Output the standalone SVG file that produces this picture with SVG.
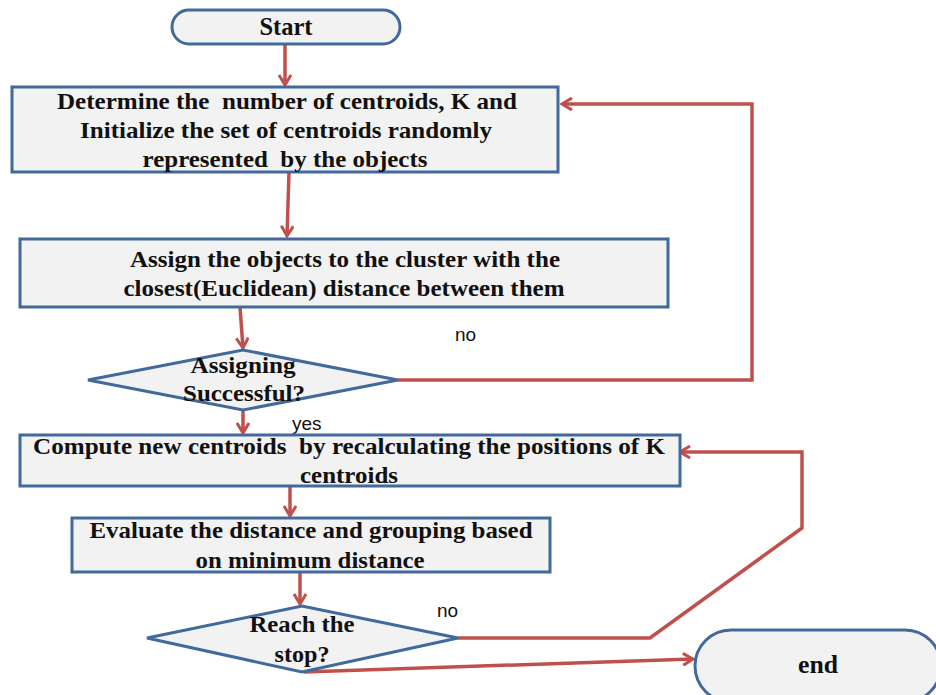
<svg xmlns="http://www.w3.org/2000/svg" width="936" height="695" viewBox="0 0 936 695">
<style>
.box{fill:#f2f2f2;stroke:#41699c;stroke-width:3}
.t{font-family:"Liberation Serif","Times New Roman",serif;font-weight:bold;font-size:23px;fill:#111;text-anchor:middle;white-space:pre}
.big{font-size:25px}
.lbl{font-family:"Liberation Sans",Arial,sans-serif;font-size:19px;fill:#111}
.c{fill:none;stroke:#c0504d;stroke-width:3.5;stroke-linejoin:miter}
</style>
<defs>
<marker id="ah" viewBox="0 0 14 14" refX="12" refY="7" markerWidth="14" markerHeight="14" markerUnits="userSpaceOnUse" orient="auto">
<path d="M2,1 L12,7 L2,13" fill="none" stroke="#c0504d" stroke-width="3"/>
</marker>
</defs>
<rect width="936" height="695" fill="#ffffff"/>
<g id="connectors">
<path class="c" d="M285,44 L285,85" marker-end="url(#ah)"/>
<path class="c" d="M289,172 L287,236" marker-end="url(#ah)"/>
<path class="c" d="M240,307 L243,348" marker-end="url(#ah)"/>
<path class="c" d="M398,380 L752,380 L752,104 L562,104" marker-end="url(#ah)"/>
<path class="c" d="M243,410 L243,433" marker-end="url(#ah)"/>
<path class="c" d="M290,486 L290,516" marker-end="url(#ah)"/>
<path class="c" d="M300,572 L300,604" marker-end="url(#ah)"/>
<path class="c" d="M458,638 L650,638 L802,528 L802,452 L680,452" marker-end="url(#ah)"/>
<path class="c" d="M304,672 L693,659" marker-end="url(#ah)"/>
<text class="lbl" x="455" y="341">no</text>
<text class="lbl" x="292" y="430">yes</text>
<text class="lbl" x="437" y="617">no</text>
</g>
<g id="start">
<rect class="box" x="172" y="10" width="228" height="34" rx="17"/>
<text class="t big" x="286" y="35" textLength="53" lengthAdjust="spacingAndGlyphs">Start</text>
</g>
<g id="init">
<rect class="box" x="12" y="87" width="546" height="85"/>
<text class="t" x="287" y="109" textLength="460" lengthAdjust="spacingAndGlyphs">Determine the  number of centroids, K and</text>
<text class="t" x="286" y="138" textLength="412" lengthAdjust="spacingAndGlyphs">Initialize the set of centroids randomly</text>
<text class="t" x="285" y="167" textLength="285" lengthAdjust="spacingAndGlyphs">represented  by the objects</text>
</g>
<g id="assign">
<rect class="box" x="20" y="239" width="648" height="68"/>
<text class="t" x="345" y="267" textLength="430" lengthAdjust="spacingAndGlyphs">Assign the objects to the cluster with the</text>
<text class="t" x="344" y="296" textLength="441" lengthAdjust="spacingAndGlyphs">closest(Euclidean) distance between them</text>
</g>
<g id="decision1">
<polygon class="box" points="88,380 243,350 398,380 243,410"/>
<text class="t" x="243" y="373" textLength="105" lengthAdjust="spacingAndGlyphs">Assigning</text>
<text class="t" x="244" y="401" textLength="122" lengthAdjust="spacingAndGlyphs">Successful?</text>
</g>
<g id="compute">
<rect class="box" x="20" y="435" width="660" height="51"/>
<text class="t" x="349" y="454" textLength="632" lengthAdjust="spacingAndGlyphs">Compute new centroids  by recalculating the positions of K</text>
<text class="t" x="349" y="483" textLength="98" lengthAdjust="spacingAndGlyphs">centroids</text>
</g>
<g id="evaluate">
<rect class="box" x="72" y="518" width="478" height="54"/>
<text class="t" x="311" y="538" textLength="443" lengthAdjust="spacingAndGlyphs">Evaluate the distance and grouping based</text>
<text class="t" x="310" y="568" textLength="229" lengthAdjust="spacingAndGlyphs">on minimum distance</text>
</g>
<g id="decision2">
<polygon class="box" points="147,638 302,606 458,638 302,672"/>
<text class="t" x="302" y="632" textLength="105" lengthAdjust="spacingAndGlyphs">Reach the</text>
<text class="t" x="302" y="662" textLength="55" lengthAdjust="spacingAndGlyphs">stop?</text>
</g>
<g id="end">
<rect class="box" x="695" y="630" width="246" height="72" rx="36"/>
<text class="t big" x="818" y="673" textLength="40" lengthAdjust="spacingAndGlyphs">end</text>
</g>
</svg>
